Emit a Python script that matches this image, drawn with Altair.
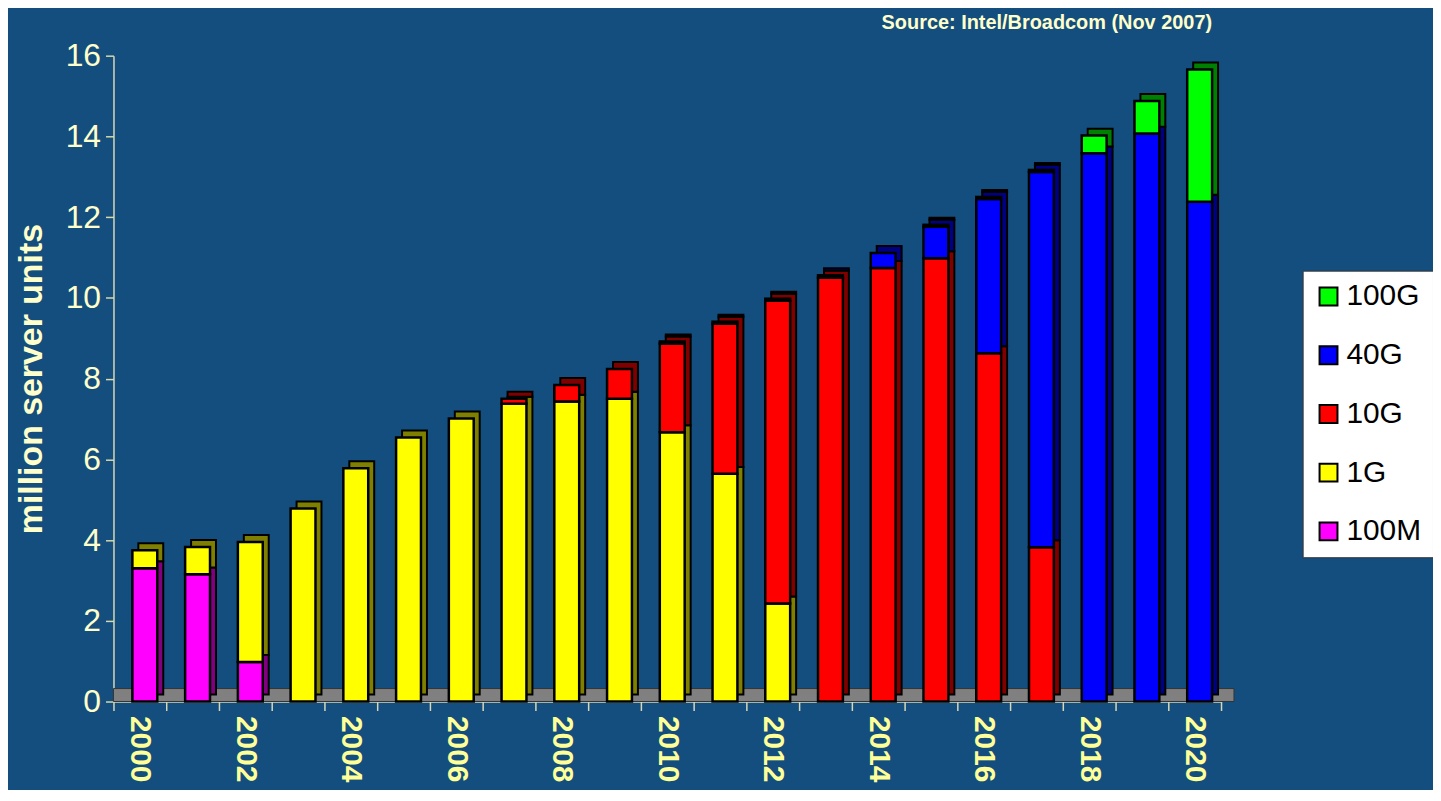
import altair as alt
import pandas as pd

years = [str(y) for y in range(2000, 2021)]
s_100m = [3.3, 3.15, 0.98, 0, 0, 0, 0, 0, 0, 0, 0, 0, 0, 0, 0, 0, 0, 0, 0, 0, 0]
s_1g = [0.45, 0.68, 2.97, 4.78, 5.78, 6.54, 7.01, 7.38, 7.43, 7.5, 6.67, 5.64, 2.43, 0, 0, 0, 0, 0, 0, 0, 0]
s_10g = [0, 0, 0, 0, 0, 0, 0, 0.12, 0.41, 0.74, 2.2, 3.72, 7.5, 10.5, 10.74, 10.98, 8.63, 3.82, 0, 0, 0]
s_40g = [0, 0, 0, 0, 0, 0, 0, 0, 0, 0, 0.05, 0.05, 0.05, 0.06, 0.37, 0.78, 3.82, 9.3, 13.58, 14.07, 12.38]
s_100g = [0, 0, 0, 0, 0, 0, 0, 0, 0, 0, 0, 0, 0, 0, 0, 0.05, 0.05, 0.05, 0.44, 0.81, 3.28]

series_names = ["100M", "1G", "10G", "40G", "100G"]
side_colors = ["#800080", "#808000", "#800000", "#000080", "#008000"]
legend_order = ["100G", "40G", "10G", "1G", "100M"]
legend_colors = ["#00FF00", "#0000FF", "#FF0000", "#FFFF00", "#FF00FF"]

all_series = [s_100m, s_1g, s_10g, s_40g, s_100g]
rows = []
for i, yr in enumerate(years):
    for k, (name, vals) in enumerate(zip(series_names, all_series)):
        if vals[i] > 0:
            rows.append({"year": yr, "series": name, "side": name + "_s", "value": vals[i], "order": k})
df = pd.DataFrame(rows)

FONT = "Liberation Sans"
TXT = "#FFFFCC"
W, H = 1113, 649
PAD_L, PAD_T = 106, 46
PAD_R = 1432 - PAD_L - W
PAD_B = 782 - PAD_T - H

x = alt.X(
    "year:N",
    sort=years,
    scale=alt.Scale(paddingInner=0, paddingOuter=0),
    title=None,
    axis=alt.Axis(
        labelAngle=90, labelAlign="left", labelBaseline="middle",
        labelFontSize=30, labelFontWeight="bold", labelColor="#FFFF99", labelFont=FONT,
        labelPadding=5,
        labelExpr="toNumber(datum.value) % 2 == 0 ? datum.value : ''",
        tickBand="extent", tickSize=9, tickColor="#D8D8B8", domainColor="#D8D8B8",
        domainWidth=1.5, tickWidth=1.5, grid=False,
    ),
)
y = alt.Y(
    "value:Q",
    stack="zero",
    scale=alt.Scale(domain=[0, 16], nice=False),
    title="million server units",
    axis=alt.Axis(
        values=list(range(0, 17, 2)), labelFontSize=32, labelColor=TXT, labelFont=FONT,
        labelPadding=5,
        tickColor="#D8D8A8", tickSize=8, tickWidth=1.5, domainColor="#D8D8B8", domainWidth=1.5,
        gridColor="#E4E4C8", gridWidth=1,
        titleFontSize=34, titleFontWeight="bold", titleColor=TXT, titleFont=FONT,
        titlePadding=17,
    ),
)

base = alt.Chart(df).encode(x=x, y=y, order=alt.Order("order:Q"))

floor = alt.Chart(pd.DataFrame({"v": [0]})).mark_rect(
    color="#808080", stroke="#333333", strokeWidth=1, y2Offset=-13
).encode(x=alt.value(0), x2=alt.value(W + 13), y=alt.datum(0), y2=alt.datum(0))

side = base.mark_bar(xOffset=11, yOffset=-7, width=25, stroke="black", strokeWidth=2).encode(
    color=alt.Color("side:N", scale=alt.Scale(domain=[n + "_s" for n in series_names], range=side_colors), legend=None)
)
front = base.mark_bar(xOffset=5, width=25, stroke="black", strokeWidth=2.5).encode(
    color=alt.Color(
        "series:N",
        scale=alt.Scale(domain=legend_order, range=legend_colors),
        legend=alt.Legend(
            title=None, orient="none", legendX=1195, legendY=216,
            fillColor="white", strokeColor="#333333", padding=11,
            symbolType="square", symbolSize=324, symbolStrokeColor="black", symbolStrokeWidth=2,
            symbolOpacity=1,
            labelFontSize=30, labelColor="black", labelFont=FONT, rowPadding=29, labelOffset=3,
            labelLimit=200,
        ),
    )
)

chart = (
    alt.layer(floor, side, front)
    .resolve_scale(color="independent")
    .properties(
        width=W, height=H,
        title=alt.TitleParams(
            "Source: Intel/Broadcom (Nov 2007)", anchor="end", frame="group", fontSize=20,
            fontWeight="bold", color=TXT, font=FONT, dx=-9, offset=7,
        ),
        autosize=alt.AutoSizeParams(type="none"),
        padding={"left": PAD_L, "top": PAD_T, "right": PAD_R, "bottom": PAD_B},
    )
    .configure(background="#134E7E")
    .configure_view(stroke=None)
)

chart.save("out.html", embed_options={"renderer": "svg", "actions": False})
